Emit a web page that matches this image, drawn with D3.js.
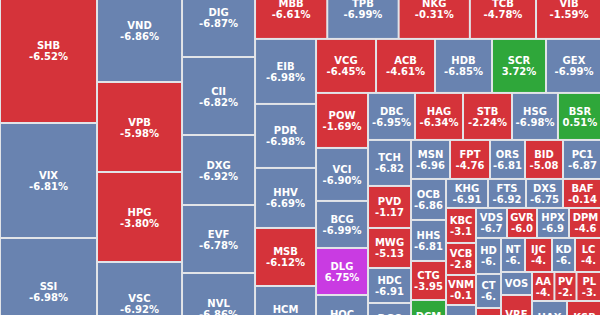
<!DOCTYPE html>
<html>
<head>
<meta charset="utf-8">
<script src="https://cdn.jsdelivr.net/npm/d3@7"></script>
<style>
  html, body { margin: 0; padding: 0; background: #fff; }
  #chart { width: 600px; height: 315px; overflow: hidden; }
</style>
</head>
<body>
<div id="chart"></div>
<script>
// tickers in layout order (as shown on the tiles)
const tickers = [
    'SHB', 'VIX', 'SSI',
    'VND', 'VPB', 'HPG', 'VSC',
    'DIG', 'CII', 'DXG', 'EVF', 'NVL',
    'MBB', 'TPB', 'NKG', 'TCB', 'VIB',
    'EIB', 'PDR', 'HHV', 'MSB', 'HCM',
    'VCG', 'ACB', 'HDB', 'SCR', 'GEX',
    'POW', 'VCI', 'BCG', 'DLG', 'HOC',
    'DBC', 'HAG', 'STB', 'HSG', 'BSR',
    'TCH', 'PVD', 'MWG', 'HDC', 'DGC',
    'MSN', 'FPT', 'ORS', 'BID', 'PC1',
    'OCB', 'HHS', 'CTG', 'DCM',
    'KHG', 'FTS', 'DXS', 'BAF',
    'KBC', 'VCB', 'VNM', 'GMD',
    'VDS', 'GVR', 'HPX', 'DPM',
    'HD', 'CT', 'SSB',
    'NT', 'IJC', 'KD', 'LC',
    'VOS', 'VRE',
    'AA', 'PV', 'PL',
    'HAX', 'KSB'
];

// % change
const changes = [
    -6.52, -6.81, -6.98,
    -6.86, -5.98, -3.80, -6.92,
    -6.87, -6.82, -6.92, -6.78, -6.86,
    -6.61, -6.99, -0.31, -4.78, -1.59,
    -6.98, -6.98, -6.69, -6.12, -6.95,
    -6.45, -4.61, -6.85, 3.72, -6.99,
    -1.69, -6.90, -6.99, 6.75, -6.94,
    -6.95, -6.34, -2.24, -6.98, 0.51,
    -6.82, -1.17, -5.13, -6.91, -6.90,
    -6.96, -4.76, -6.81, -5.08, -6.87,
    -6.86, -6.81, -3.95, 2.50,
    -6.91, -6.92, -6.75, -0.14,
    -3.12, -2.85, -0.15, -6.90,
    -6.73, -6.04, -6.93, -4.62,
    -6.90, -6.90, -3.50,
    -6.90, -4.50, -6.90, -4.40,
    -6.90, -3.20,
    -4.30, -2.60, -3.40,
    -6.90, -4.00
];

// trading value (cell size)
const sizes = [
    14065, 11155, 10282,
    8840, 7650, 7650, 6970,
    5767, 5694, 5110, 4964, 5183,
    4400, 4350, 4340, 4030, 4020,
    3965, 3904, 3660, 3538, 3538,
    3240, 3186, 3078, 2916, 3024,
    2860, 2756, 2444, 2444, 2548,
    2209, 2256, 2303, 2160, 2070,
    1978, 1806, 1720, 1505, 1763,
    1521, 1560, 1365, 1482, 1521,
    1435, 1435, 1365, 1540,
    1218, 1102, 1073, 1131,
    1050, 960, 900, 1170,
    930, 900, 960, 990,
    900, 850, 900,
    816, 918, 782, 918,
    713, 1519,
    650, 640, 740,
    1505, 1505
];

// how many tiles go in each strip
const strips = [3, 4, 5, 5, 5, 5, 5, 5, 5, 5, 4, 4, 4, 4, 3, 4, 2, 3, 1, 1];

const width = 600, height = 315;
const mapW = 602, mapH = 366, offsetY = -22;

const colorOf = (c) => {
    if (c >= 6.7) return '#c93be2';   // ceiling
    if (c <= -6.65) return '#6983b0'; // floor
    if (c < 0) return '#d5333a';
    return '#2fa73a';
};

// strip tiling: each strip runs along the shorter side
const stripTile = (parent, x0, y0, x1, y1) => {
    const nodes = parent.children;
    let value = parent.value, i0 = 0;
    strips.forEach((n) => {
        const kids = nodes.slice(i0, i0 + n);
        const row = { value: d3.sum(kids, (d) => d.value), children: kids };
        const dx = x1 - x0, dy = y1 - y0;
        if (dx < dy) {
            const yy = y0 + dy * row.value / value;
            d3.treemapDice(row, x0, y0, x1, yy);
            y0 = yy;
        } else {
            const xx = x0 + dx * row.value / value;
            d3.treemapSlice(row, x0, y0, xx, y1);
            x0 = xx;
        }
        value -= row.value;
        i0 += n;
    });
};

const data = {
    name: 'root',
    children: tickers.map((t, i) => ({ name: t, change: changes[i], size: sizes[i] }))
};

const root = d3.hierarchy(data).sum((d) => d.size || 0);
d3.treemap().tile(stripTile).size([mapW, mapH])(root);

const svg = d3.select('#chart')
    .append('svg')
    .attr('width', width)
    .attr('height', height);

svg.append('rect')
    .attr('width', width)
    .attr('height', height)
    .attr('fill', '#e2e4e8');

const g = svg.append('g').attr('transform', 'translate(0,' + offsetY + ')');

const cell = g.selectAll('g.cell')
    .data(root.leaves())
    .join('g')
    .attr('class', 'cell')
    .attr('transform', (d) => 'translate(' + d.x0 + ',' + d.y0 + ')');

cell.append('rect')
    .attr('x', 1)
    .attr('y', 1)
    .attr('width', (d) => Math.max(0, d.x1 - d.x0 - 2))
    .attr('height', (d) => Math.max(0, d.y1 - d.y0 - 2))
    .attr('fill', (d) => colorOf(d.data.change));

// cut the value text until it fits the tile
const fit = (sel, str, avail) => {
    sel.text(str);
    while (str.length > 1 && sel.node().getComputedTextLength() > avail) {
        str = str.slice(0, -1);
        sel.text(str);
    }
};

cell.each(function (d) {
    const w = d.x1 - d.x0, h = d.y1 - d.y0;
    const cx = w / 2, cy = h / 2;
    const avail = w - 6;
    const twoLines = h >= 26;
    const el = d3.select(this);

    el.append('text')
        .attr('x', cx)
        .attr('y', twoLines ? cy - 1.5 : cy + 4)
        .attr('text-anchor', 'middle')
        .attr('font-family', 'DejaVu Sans, Verdana, sans-serif')
        .attr('font-size', '10px')
        .attr('font-weight', 'bold')
        .attr('fill', '#fff')
        .text(d.data.name);

    if (twoLines) {
        const val = el.append('text')
            .attr('x', cx)
            .attr('y', cy + 9.5)
            .attr('text-anchor', 'middle')
            .attr('font-family', 'DejaVu Sans, Verdana, sans-serif')
            .attr('font-size', '10px')
            .attr('font-weight', 'bold')
            .attr('fill', '#fff');
        fit(val, d.data.change.toFixed(2) + '%', avail);
    }
});
</script>
</body>
</html>
